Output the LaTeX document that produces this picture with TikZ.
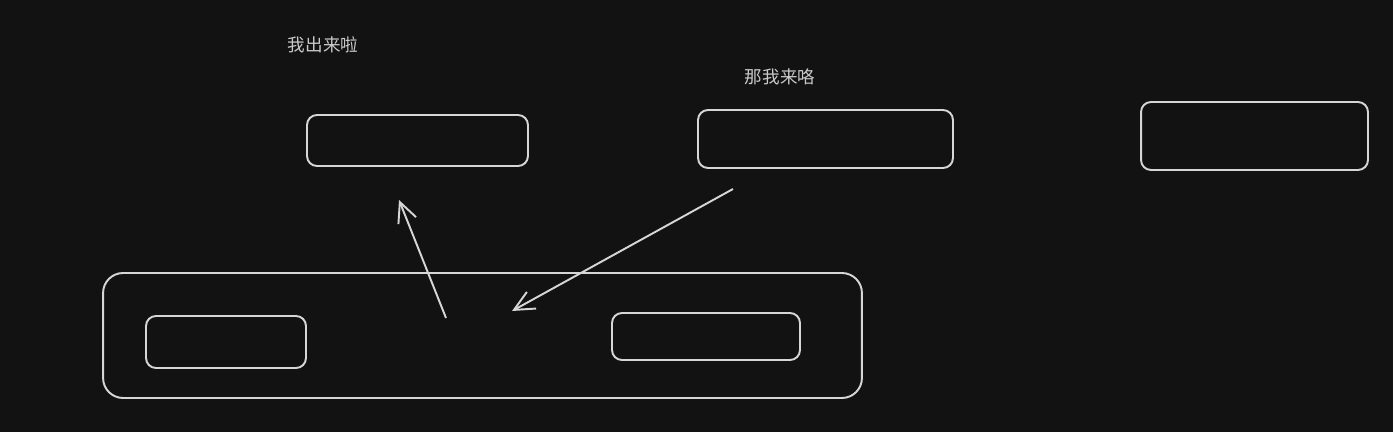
\documentclass[tikz,border=0pt]{standalone}
\usepackage{fontspec}
\newfontfamily\cjk{Noto Sans CJK SC}
\usetikzlibrary{calc}
\usetikzlibrary{positioning}
\usetikzlibrary{arrows.meta}
\definecolor{board}{HTML}{121212}
\definecolor{chalk}{HTML}{D6D6D6}
\definecolor{chalktext}{HTML}{CACACA}
\tikzset{every picture/.style={/utils/exec={\cjk}}}
\tikzset{
  sketchbox/.style={draw=chalk, line width=1.1pt, rounded corners=0.2cm, inner sep=0pt},
  sketcharrow/.style={draw=chalk, line width=1.1pt, -{Straight Barb[length=0.4cm, width=0.38cm]}},
  note/.style={text=chalktext, font=\fontsize{10}{12}\selectfont\cjk}
}

\begin{document}
\begin{tikzpicture}[x=0.02cm, y=-0.02cm]
  \fill [board] (0,0) rectangle (1393,432);

  \node [note] (outlabel) at (323,45) {我出来啦};
  \node [note] (inlabel) at (780,77) {那我来咯};

  \node [sketchbox, minimum width=4.42cm, minimum height=1.02cm] (popped) at (417.5,140.5) {};
  \node [sketchbox, minimum width=5.1cm, minimum height=1.16cm] (entering) at (825.5,139) {};
  \node [sketchbox, minimum width=4.54cm, minimum height=1.36cm] (waiting) at (1254.5,136) {};

  \node [sketchbox, rounded corners=0.4cm, minimum width=15.18cm, minimum height=2.5cm] (stack) at (482.5,335.5) {};
  \node [sketchbox, minimum width=3.2cm, minimum height=1.04cm] (slotleft) at (226,342) {};
  \node [sketchbox, minimum width=3.76cm, minimum height=0.94cm] (slotright) at (706,336.5) {};

  \coordinate (outfrom) at (446,318);
  \coordinate (outto) at (399,200);
  \coordinate (infrom) at (733,189);
  \coordinate (into) at (512,311);
  \draw [sketcharrow] (outfrom) -- (outto);
  \draw [sketcharrow] (infrom) -- (into);
\end{tikzpicture}
\end{document}
